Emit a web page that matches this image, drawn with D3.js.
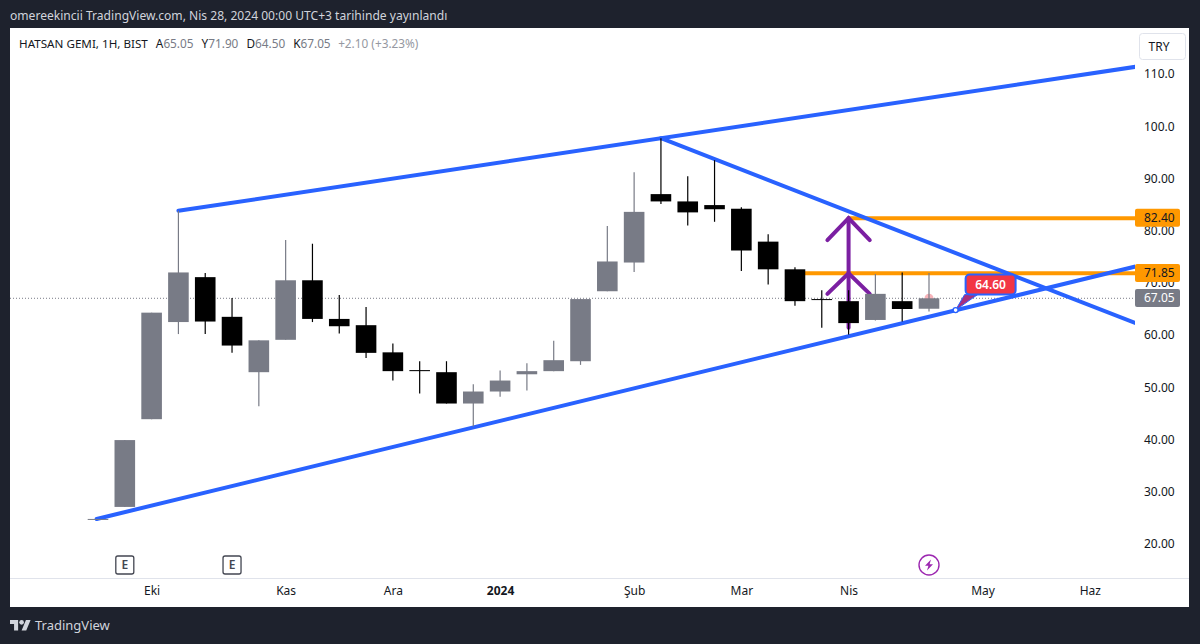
<!DOCTYPE html>
<html>
<head>
<meta charset="utf-8">
<script src="https://cdn.jsdelivr.net/npm/d3@7"></script>
<style>
  html, body { margin: 0; padding: 0; background: #1e222d; }
  text { font-family: "Noto Sans", sans-serif; }
</style>
</head>
<body>
<script>
// candles, one per month bar
const opens  = [24.8, 27.1, 43.9, 62.5, 71.1, 63.5, 52.9, 59.1, 70.5, 63.1, 61.9, 56.7, 53.3, 52.9, 46.9, 49.2, 52.5, 53.1, 55.0, 68.4, 73.9, 87.0, 85.6, 84.9, 84.2, 77.9, 72.6, 66.9, 66.5, 62.9, 66.5, 65.05]
const highs  = [24.8, 39.9, 64.3, 83.8, 71.9, 67.1, 59.0, 78.2, 77.5, 67.7, 65.4, 58.4, 55.0, 55.0, 50.6, 53.2, 54.6, 58.9, 66.9, 80.9, 91.2, 97.7, 90.4, 93.5, 84.5, 79.3, 73.0, 68.6, 68.6, 71.7, 72.0, 71.90]
const lows   = [24.8, 27.1, 43.9, 60.2, 60.2, 56.6, 46.4, 59.1, 62.5, 60.3, 55.6, 51.3, 48.8, 46.9, 42.5, 48.2, 49.4, 53.1, 54.3, 68.4, 72.1, 85.1, 81.0, 81.7, 72.3, 69.7, 65.6, 61.4, 60.1, 62.8, 62.6, 64.50]
const closes = [24.8, 39.9, 64.3, 72.0, 62.6, 58.0, 59.0, 70.5, 63.1, 61.7, 56.6, 53.1, 53.1, 46.9, 49.2, 51.3, 53.1, 55.2, 66.9, 74.1, 83.6, 85.6, 83.5, 84.1, 76.2, 72.6, 66.5, 66.8, 62.3, 67.9, 65.0, 67.05]

const priceTicks = [110, 100, 90, 80, 70, 60, 50, 40, 30, 20]
const priceLabels = ['110.0', '100.0', '90.00', '80.00', '70.00', '60.00', '50.00', '40.00', '30.00', '20.00']

const monthBars = [2, 7, 11, 15, 20, 24, 28, 33, 37]
const monthLabels = ['Eki', 'Kas', 'Ara', '2024', 'Şub', 'Mar', 'Nis', 'May', 'Haz']

// trend lines as [bar, price] pairs
const upperLine = [[3, 83.8], [38.8, 111.45]]
const lowerLine = [[-0.05, 24.8], [38.8, 73.25]]
const fallLine  = [[21, 97.7], [38.8, 62.1]]
const levelLines = [[[28, 82.4], [38.8, 82.4]], [[26, 71.85], [38.8, 71.85]]]

const arrowTips = [82.4, 71.85]
const arrowWings = [78.2, 67.9]
const arrowBar = 28
const arrowBottom = 61.4

const earningsBars = [1, 5]
const dividendBar = 31
const calloutBar = 32
const calloutPrice = 64.6

const width = 1200
const height = 644
const plotRight = 1135

const x = d3.scaleLinear().domain([0, 31]).range([98, 929])
const y = d3.scaleLinear().domain([20, 110]).range([544, 74])

const gray = '#787b86'
const blue = '#2962ff'
const orange = '#ff9800'
const purple = '#7b1fa2'

const svg = d3.select('body').append('svg')
	.attr('width', width)
	.attr('height', height)
	.style('display', 'block')

svg.append('rect').attr('width', width).attr('height', height).attr('fill', '#1e222d')
svg.append('rect')
	.attr('x', 10).attr('y', 28)
	.attr('width', 1179).attr('height', 579)
	.attr('fill', '#fff')

svg.append('text')
	.attr('x', 10).attr('y', 20)
	.attr('fill', '#d1d4dc')
	.style('font-size', '12.08px')
	.text('omereekincii TradingView.com, Nis 28, 2024 00:00 UTC+3 tarihinde yayınlandı')

// header legend
let legend = svg.append('text')
	.attr('x', 19).attr('y', 48)
	.style('font-size', '11.8px')
	.attr('fill', gray)
legend.append('tspan').attr('fill', '#131722').style('font-size', '11.65px').text('HATSAN GEMI, 1H, BIST')
;[['A', '65.05'], ['Y', '71.90'], ['D', '64.50'], ['K', '67.05']].forEach(d => {
	legend.append('tspan').attr('dx', 8).attr('fill', '#131722').text(d[0])
	legend.append('tspan').text(d[1])
})
legend.append('tspan').attr('dx', 7.5).attr('fill', '#9598a1').text('+2.10 (+3.23%)')

// last price dotted line
svg.append('line')
	.attr('x1', 10).attr('x2', plotRight)
	.attr('y1', y(closes[31])).attr('y2', y(closes[31]))
	.attr('stroke', gray)
	.attr('stroke-dasharray', '1 2')

// time axis separator
svg.append('line')
	.attr('x1', 10).attr('x2', 1189)
	.attr('y1', 578.5).attr('y2', 578.5)
	.attr('stroke', '#e0e3eb')

let line = d3.line().x(d => x(d[0])).y(d => y(d[1]))

svg.append('clipPath').attr('id', 'plot')
	.append('rect')
	.attr('x', 10).attr('y', 28)
	.attr('width', plotRight - 10).attr('height', 550)

// drawings sit under the candles
let drawings = svg.append('g')
	.attr('clip-path', 'url(#plot)')
	.attr('fill', 'none')
	.attr('stroke-linecap', 'round')

drawings.selectAll('.level')
	.data(levelLines)
	.enter()
	.append('path')
	.attr('class', 'level')
	.attr('d', line)
	.attr('stroke', orange)
	.attr('stroke-width', 4)

drawings.selectAll('.trend')
	.data([upperLine, lowerLine, fallLine])
	.enter()
	.append('path')
	.attr('class', 'trend')
	.attr('d', line)
	.attr('stroke', blue)
	.attr('stroke-width', 4)

drawings.append('path')
	.attr('d', line([[arrowBar, arrowBottom], [arrowBar, arrowTips[0]]]))
	.attr('stroke', purple)
	.attr('stroke-width', 4)

arrowTips.forEach((tip, i) => {
	drawings.append('path')
		.attr('d', line([[arrowBar - 0.79, arrowWings[i]], [arrowBar, tip], [arrowBar + 0.79, arrowWings[i]]]))
		.attr('stroke', purple)
		.attr('stroke-width', 4)
})

// pulse dot behind the last candle
svg.append('circle')
	.attr('cx', x(31)).attr('cy', y(closes[31]))
	.attr('r', 4.5)
	.attr('fill', '#f7b4ba')

// candles
let bars = d3.range(opens.length)
let bodyWidth = 20.6
let candleColor = i => closes[i] >= opens[i] ? gray : '#000'

let candles = svg.append('g')
candles.selectAll('.wick')
	.data(bars)
	.enter()
	.append('line')
	.attr('class', 'wick')
	.attr('x1', i => x(i)).attr('x2', i => x(i))
	.attr('y1', i => y(highs[i])).attr('y2', i => y(lows[i]))
	.attr('stroke', candleColor)
	.attr('stroke-width', 1.2)

candles.selectAll('.body')
	.data(bars)
	.enter()
	.append('rect')
	.attr('class', 'body')
	.attr('x', i => x(i) - bodyWidth / 2)
	.attr('width', bodyWidth)
	.attr('y', i => y(Math.max(opens[i], closes[i])))
	.attr('height', i => Math.max(1, Math.abs(y(opens[i]) - y(closes[i]))))
	.attr('fill', candleColor)

// callout, anchored on the lower trend line
let tipX = x(calloutBar) - 0.2
let tipY = y(calloutPrice) - 1
let boxTop = tipY - 35.5
let callout = svg.append('g')
callout.append('path')
	.attr('d', `M${tipX},${tipY} L${tipX + 9},${boxTop + 20} L${tipX + 22},${boxTop + 20} Z`)
	.attr('fill', '#a8307e')
	.attr('stroke', blue)
callout.append('rect')
	.attr('x', tipX + 10).attr('y', boxTop)
	.attr('width', 50).attr('height', 20)
	.attr('rx', 4)
	.attr('fill', '#f23645')
	.attr('stroke', blue)
	.attr('stroke-width', 2)
callout.append('text')
	.attr('x', tipX + 35).attr('y', boxTop + 14)
	.attr('text-anchor', 'middle')
	.attr('fill', '#fff')
	.style('font-size', '12px')
	.style('font-weight', 600)
	.text(calloutPrice.toFixed(2))
callout.append('circle')
	.attr('cx', tipX).attr('cy', tipY)
	.attr('r', 2.5)
	.attr('fill', '#fff')
	.attr('stroke', blue)
	.attr('stroke-width', 1.4)

// price axis
let priceAxis = d3.axisRight(y)
	.tickValues(priceTicks)
	.tickSize(0)
	.tickPadding(0)
	.tickFormat((d, i) => priceLabels[i])

let priceG = svg.append('g')
	.attr('transform', 'translate(1144,0)')
	.call(priceAxis)
priceG.select('.domain').remove()
priceG.selectAll('text')
	.attr('fill', '#131722')
	.style('font-size', '12px')
	.style('font-family', '"Noto Sans", sans-serif')

// time axis
let timeAxis = d3.axisBottom(x)
	.tickValues(monthBars)
	.tickSize(0)
	.tickPadding(0)
	.tickFormat((d, i) => monthLabels[i])

let timeG = svg.append('g')
	.attr('transform', 'translate(0,586)')
	.call(timeAxis)
timeG.select('.domain').remove()
timeG.selectAll('text')
	.attr('fill', '#131722')
	.style('font-size', '12px')
	.style('font-family', '"Noto Sans", sans-serif')
	.style('font-weight', (d, i) => monthLabels[i] === '2024' ? 700 : 400)

// price tags on the axis
let tags = [
	{ value: levelLines[0][0][1], fill: orange, color: '#131722' },
	{ value: levelLines[1][0][1], fill: orange, color: '#131722' },
	{ value: closes[31], fill: gray, color: '#fff' }
]
let tag = svg.selectAll('.tag')
	.data(tags)
	.enter()
	.append('g')
	.attr('class', 'tag')
tag.append('rect')
	.attr('x', plotRight).attr('width', 45)
	.attr('y', d => y(d.value) - 9.3).attr('height', 18)
	.attr('rx', 2)
	.attr('fill', d => d.fill)
tag.append('text')
	.attr('x', 1144)
	.attr('y', d => y(d.value) + 4.2)
	.attr('fill', d => d.color)
	.style('font-size', '12px')
	.text(d => d.value.toFixed(2))

// currency button
svg.append('rect')
	.attr('x', 1139.5).attr('y', 33.5)
	.attr('width', 46).attr('height', 26)
	.attr('rx', 3)
	.attr('fill', '#fff')
	.attr('stroke', '#e0e3eb')
svg.append('text')
	.attr('x', 1159).attr('y', 50.5)
	.attr('text-anchor', 'middle')
	.attr('fill', '#131722')
	.style('font-size', '12px')
	.text('TRY')

// earnings markers
let earnings = svg.selectAll('.earn')
	.data(earningsBars)
	.enter()
	.append('g')
	.attr('class', 'earn')
	.attr('transform', d => `translate(${x(d)},565)`)
earnings.append('rect')
	.attr('x', -9).attr('y', -9)
	.attr('width', 18).attr('height', 18)
	.attr('rx', 2)
	.attr('fill', '#fff')
	.attr('stroke', '#434651')
	.attr('stroke-width', 1.3)
earnings.append('text')
	.attr('text-anchor', 'middle')
	.attr('y', 4.3)
	.attr('fill', '#434651')
	.style('font-size', '12px')
	.style('font-weight', 600)
	.text('E')

// dividend marker
let dividend = svg.append('g').attr('transform', `translate(${x(dividendBar)},565)`)
dividend.append('circle')
	.attr('r', 10)
	.attr('fill', '#fff')
	.attr('stroke', '#9c27b0')
	.attr('stroke-width', 1.4)
dividend.append('path')
	.attr('d', 'M2,-5.5 L-4,0.8 L-0.6,0.8 L-2,5.5 L4,-0.8 L0.6,-0.8 Z')
	.attr('fill', '#9c27b0')

// footer logo
let logo = svg.append('g')
	.attr('transform', 'translate(10,617.7) scale(0.58)')
	.attr('fill', '#d1d4dc')
logo.append('path').attr('d', 'M14 22H7V11H0V4h14v18zM28 22h-8l7.5-18h8L28 22z')
logo.append('circle').attr('cx', 20).attr('cy', 8).attr('r', 4)
svg.append('text')
	.attr('x', 35).attr('y', 630)
	.attr('fill', '#d1d4dc')
	.style('font-size', '13px')
	.text('TradingView')
</script>
</body>
</html>
